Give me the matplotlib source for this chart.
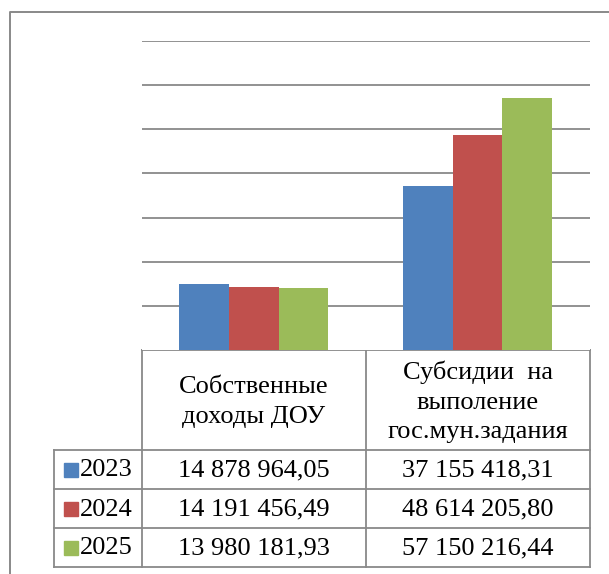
import numpy as np
import matplotlib as mpl
mpl.use("Agg")
import matplotlib.pyplot as plt
from matplotlib.patches import Rectangle

# ── Data ──────────────────────────────────────────────────────────────────────
categories = ["Собственные\nдоходы ДОУ", "Субсидии  на\nвыполение\nгос.мун.задания"]
years = ["2023", "2024", "2025"]
values_2023 = [14878964.05, 37155418.31]
values_2024 = [14191456.49, 48614205.80]
values_2025 = [13980181.93, 57150216.44]
series = [values_2023, values_2024, values_2025]
colors = ["#4F81BD", "#C0504D", "#9BBB59"]

# ── Style ─────────────────────────────────────────────────────────────────────
mpl.rcParams.update({
    "font.family": ["Liberation Serif", "DejaVu Serif"],
    "font.size": 19,
})
LINE = "#898989"
W, H = 609, 574

fig = plt.figure(figsize=(W / 100, H / 100), dpi=100)

# pixel geometry of plot area
x0, x1 = 142, 589.5
y_top, y_bot = 41, 350
ax = fig.add_axes([x0 / W, 1 - y_bot / H, (x1 - x0) / W, (y_bot - y_top) / H])

bw = 0.222
xs = np.arange(len(categories))
for i, (vals, c) in enumerate(zip(series, colors)):
    ax.bar(xs + (i - 1) * bw, vals, width=bw, color=c, zorder=3)

ax.set_xlim(-0.5, len(categories) - 0.5)
ax.set_ylim(0, 70e6)
ax.set_yticks(np.arange(10e6, 70e6 + 1, 10e6))
ax.yaxis.grid(True, color=LINE, lw=1.3, zorder=0)
ax.tick_params(left=False, bottom=False, labelleft=False, labelbottom=False)
for s in ax.spines.values():
    s.set_visible(False)

# ── Overlay for frame and data table ──────────────────────────────────────────
ov = fig.add_axes([0, 0, 1, 1], zorder=-1)
ov.set_xlim(0, W)
ov.set_ylim(H, 0)
ov.axis("off")

# outer chart frame (right and bottom fall outside the picture)
ov.plot([9.5, 9.5, W + 5], [H + 5, 12, 12], color=LINE, lw=1.4)

col_x = [53.6, x0, 366, x1]
row_y = [y_bot, 450, 489, 528, 567]

# header row
ov.plot([x0, x1], [y_bot, y_bot], color=LINE, lw=1.3)
for x in col_x[1:]:
    ov.plot([x, x], [y_bot, row_y[-1]], color=LINE, lw=1.3)
for y in row_y[1:]:
    ov.plot([col_x[0], x1], [y, y], color=LINE, lw=1.3)
ov.plot([col_x[0], col_x[0]], [row_y[1], row_y[-1]], color=LINE, lw=1.3)

for j, cat in enumerate(categories):
    cx = (col_x[j + 1] + col_x[j + 2]) / 2
    ov.text(cx, (row_y[0] + row_y[1]) / 2 + 2, cat, ha="center", va="center",
            linespacing=1.45)


def fmt(v):
    return f"{v:,.2f}".replace(",", " ").replace(".", ",")


for i, (yr, vals, c) in enumerate(zip(years, series, colors)):
    cy = (row_y[i + 1] + row_y[i + 2]) / 2
    ov.add_patch(Rectangle((63.5, cy - 7), 14, 14, color=c))
    ov.text(79.5, cy + 1, yr, ha="left", va="center")
    for j, v in enumerate(vals):
        cx = (col_x[j + 1] + col_x[j + 2]) / 2
        ov.text(cx, cy + 1, fmt(v), ha="center", va="center")

fig.savefig("out.png", dpi=100)
